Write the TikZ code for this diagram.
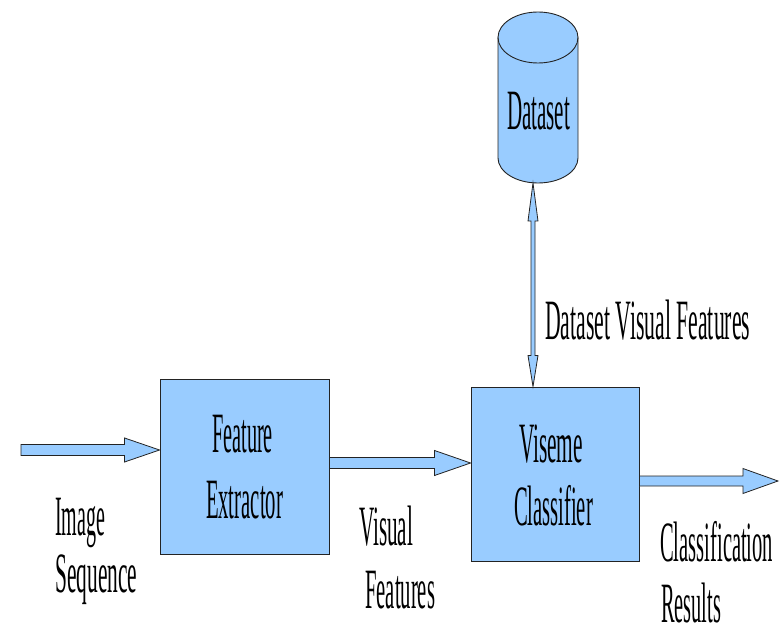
\documentclass[tikz,border=0pt]{standalone}
\usepackage{fontspec}
\usepackage{graphicx}
\setmainfont{Liberation Serif}
\usetikzlibrary{calc}
\definecolor{boxblue}{RGB}{153,204,255}
\definecolor{edgegray}{RGB}{35,35,35}
% condensed text squeezed to a given width (#1), height kept
\newcommand\narrowtext[2]{\resizebox{#1}{\height}{#2}}
% horizontal block arrow: #1 tail point, #2 tip point, #3 half shaft, #4 half head, #5 head length
\newcommand\hblockarrow[5]{%
  \draw[barrow] let \p1=(#1), \p2=(#2) in
    (\x1,\y2+#3) -- (\x2-#5,\y2+#3) -- (\x2-#5,\y2+#4) -- (\x2,\y2)
    -- (\x2-#5,\y2-#4) -- (\x2-#5,\y2-#3) -- (\x1,\y2-#3) -- cycle;}
\begin{document}
\begin{tikzpicture}[x=1pt,y=-1pt,
  block/.style={draw=edgegray, fill=boxblue, line width=0.9pt, inner sep=0pt},
  lbl/.style={anchor=base west, inner sep=0pt, font=\fontsize{57}{60}\selectfont},
  inlbl/.style={anchor=base, inner sep=0pt, font=\fontsize{57}{60}\selectfont},
  barrow/.style={draw=edgegray, fill=boxblue, line width=0.8pt, line join=miter}]
\useasboundingbox (0,0) rectangle (780,631);

% processing blocks
\node[block, minimum width=169pt, minimum height=175pt] (fe) at (244.5,466.5) {};
\node[block, minimum width=168pt, minimum height=174pt] (vc) at (555,474) {};

% dataset cylinder
\fill[boxblue] (498,37.5) -- (498,158) arc[start angle=180, end angle=0, x radius=40, y radius=25]
  -- (578,37.5) arc[start angle=0, end angle=-180, x radius=40, y radius=25.5] -- cycle;
\draw[edgegray, line width=0.9pt] (498,37.5) -- (498,158)
  arc[start angle=180, end angle=0, x radius=40, y radius=25] -- (578,37.5);
\draw[edgegray, line width=0.9pt] (538,37.5) ellipse [x radius=40, y radius=25.5];
\coordinate (dsbot) at (533,183);
\coordinate (vctop) at (dsbot |- vc.north);

% reference points of the flow arrows
\coordinate (inp) at (21,450);
\coordinate (mid) at (0,463);
\coordinate (outp) at (778,481);

% flow arrows
\hblockarrow{inp}{fe.west |- inp}{5.5pt}{12pt}{35pt}
\hblockarrow{fe.east |- mid}{vc.west |- mid}{5.5pt}{12.5pt}{36pt}
\hblockarrow{vc.east |- outp}{outp}{5pt}{12.5pt}{35pt}

% two-way link between dataset and classifier
\draw[barrow] let \p1=(dsbot), \p2=(vctop) in
  (\x1,\y1) -- (\x1+5pt,\y1-38pt) -- (\x1+2pt,\y1-38pt) -- (\x1+2pt,\y2+31pt)
  -- (\x1+5pt,\y2+31pt) -- (\x2,\y2) -- (\x1-5pt,\y2+31pt) -- (\x1-2pt,\y2+31pt)
  -- (\x1-2pt,\y1-38pt) -- (\x1-5pt,\y1-38pt) -- cycle;

% texts inside the shapes
\node[inlbl] (dstxt) at (538.5,130) {\narrowtext{63pt}{Dataset}};
\node[inlbl] (fe1) at (242.5,453) {\narrowtext{61pt}{Feature}};
\node[inlbl] (fe2) at (244.5,518) {\narrowtext{77pt}{Extractor}};
\node[inlbl] (vc1) at (551,462) {\narrowtext{64pt}{Viseme}};
\node[inlbl] (vc2) at (553.5,525) {\narrowtext{79pt}{Classifier}};

% labels of the arrows
\node[lbl] (in1) at (55,535) {\narrowtext{50pt}{Image}};
\node[lbl] (in2) at (55,592) {\narrowtext{82pt}{Sequence}};
\node[lbl] (vf1) at (359,545) {\narrowtext{54pt}{Visual}};
\node[lbl] (vf2) at (365,608) {\narrowtext{70pt}{Features}};
\node[lbl] (cr1) at (660,561) {\narrowtext{113pt}{Classification}};
\node[lbl] (cr2) at (661,622) {\narrowtext{60pt}{Results}};
\node[lbl] (dvf) at (545,340) {\narrowtext{205pt}{Dataset Visual Features}};
\end{tikzpicture}
\end{document}
